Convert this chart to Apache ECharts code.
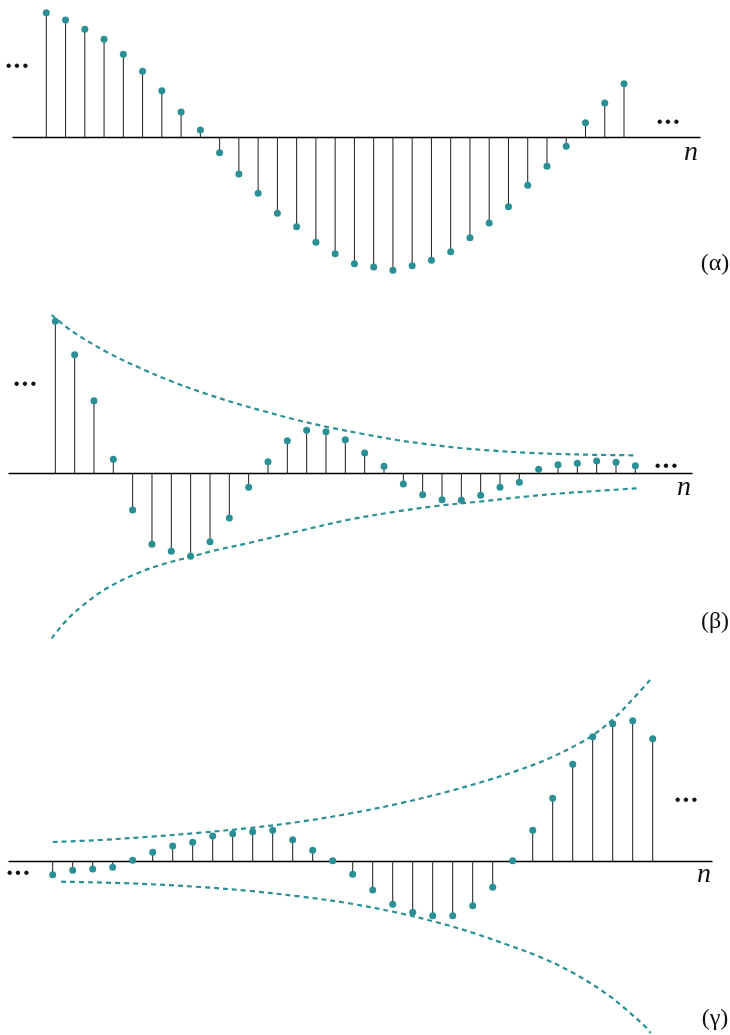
<!DOCTYPE html>
<html>
<head>
<meta charset="utf-8">
<script src="https://cdn.jsdelivr.net/npm/echarts@6/dist/echarts.min.js"></script>
<style>
  html, body { margin: 0; padding: 0; background: #fff; }
  #chart { width: 730px; height: 1035px; }
</style>
</head>
<body>
<div id="chart"></div>
<script>
// sample index n
const nIndex = [0,1,2,3,4,5,6,7,8,9,10,11,12,13,14,15,16,17,18,19,20,21,22,23,24,25,26,27,28,29,30];

// (α) sequence values
const alphaVals = [124.3,117,107.7,97.7,82.7,65.7,46.3,25,7,-15.7,-37,-56.3,-76.3,-89.7,-105.3,-116.7,-126.7,-130,-133.3,-128.7,-123.3,-114.7,-100.7,-86,-69.7,-48.3,-29.3,-9.3,14.3,34,53.3];

// (β) sequence values and envelopes [n, value]
const betaVals = [151.7,118.3,72.3,13.7,-37,-71.3,-78.3,-83.3,-68.7,-45,-14.3,11.3,32.3,42.7,41.3,33.3,20,6.7,-11,-21.7,-26.7,-27.3,-22.3,-14.3,-9.3,3.7,8.3,9.7,12,10.7,7.3];
const betaUpper = [[-0.19,158],[0.93,141],[2.66,121],[4.38,105],[6.1,91],[7.83,79],[9.55,68.5],[10.76,62],[12.49,53],[14.21,45.5],[15.93,39],[17.66,33],[19.38,28.5],[20.93,25],[22.66,22.3],[24.38,20.3],[26.11,19],[27.83,18.2],[29.98,17.7]];
const betaLower = [[-0.19,-165.3],[0.59,-147],[1.45,-132],[2.66,-115.3],[4.04,-102],[5.42,-92],[6.97,-84],[8.35,-77],[10.07,-69.7],[12.5,-58.5],[15.24,-46.5],[17.66,-38.5],[19.73,-33],[21.97,-28.5],[24.38,-23.5],[26.11,-20.5],[28.17,-17.7],[30.12,-15.3]];

// (γ) sequence values and envelopes [n, value]
const gammaVals = [-13.7,-9.3,-8,-6.3,0.7,8.7,15,18.7,25,27.3,29.3,30.7,21.3,10.7,0.3,-13.3,-29,-43.3,-51.3,-54.7,-54.7,-44.7,-26.3,0.3,30.7,62.7,96.7,124.3,137.3,140.3,122.3];
const gammaUpper = [[0,19],[2.37,21],[4.87,24.3],[7.37,28.3],[9.87,33],[12.37,39.3],[14.87,47.5],[17.37,57.7],[19.87,70],[21.7,80.5],[23.03,89],[24.7,101.5],[26.37,118],[27.03,126],[28.03,142],[28.87,159],[29.87,181]];
const gammaLower = [[0.42,-20.7],[4.03,-22.5],[7.37,-26],[9.87,-30],[12.37,-35.5],[14.87,-42.5],[17.37,-52.3],[19.53,-63],[21.03,-72],[22.7,-83.5],[24.37,-96],[26.03,-112],[27.7,-133],[28.7,-149],[29.7,-167],[29.9,-172]];

// panel labels
const panelLabels = ['(α)', '(β)', '(γ)'];

const TEAL = '#2a9096';
function pairs(vals) { return nIndex.map((n, i) => [n, vals[i]]); }
function stemSeries(idx, vals) {
  return {
    type: 'custom', xAxisIndex: idx, yAxisIndex: idx, z: 2,
    data: pairs(vals), encode: { x: 0, y: 1 },
    renderItem: function (params, api) {
      const x = api.value(0), y = api.value(1);
      const p0 = api.coord([x, 0]), p1 = api.coord([x, y]);
      return { type: 'line', shape: { x1: p0[0], y1: p0[1], x2: p1[0], y2: p1[1] },
               style: { stroke: '#1c1c1c', lineWidth: 1 } };
    }
  };
}
function dotSeries(idx, vals) {
  return { type: 'scatter', xAxisIndex: idx, yAxisIndex: idx, z: 4,
           data: pairs(vals), symbolSize: 7, itemStyle: { color: TEAL, opacity: 1 } };
}
function envSeries(idx, data) {
  return { type: 'line', xAxisIndex: idx, yAxisIndex: idx, z: 3, data: data,
           smooth: 0.35, symbol: 'none',
           lineStyle: { color: TEAL, width: 2.2, type: [5, 4] } };
}
function xAx(idx, min, max) {
  return { type: 'value', gridIndex: idx, min: min, max: max,
           axisLine: { show: true, onZero: true, lineStyle: { color: '#000', width: 1.3 } },
           axisTick: { show: false }, axisLabel: { show: false }, splitLine: { show: false } };
}
function yAx(idx, min, max) {
  return { type: 'value', gridIndex: idx, min: min, max: max, show: false };
}
function ftxt(text, x, y, font) {
  return { type: 'text', x: x, y: y, z: 10,
           style: { text: text, font: font, fill: '#111', align: 'center', verticalAlign: 'middle' } };
}
const DOTS_FONT = 'bold 24px DejaVu Serif';
const N_FONT = 'italic 28px Liberation Serif';
const LBL_FONT = '24px Liberation Serif';
function dots(x, y) { return ftxt('...', x, y, DOTS_FONT); }
function nLab(x, y) { return ftxt('n', x, y, N_FONT); }
function pLab(t, x, y) { return ftxt(t, x, y, LBL_FONT); }

const chart = echarts.init(document.getElementById('chart'), null, { renderer: 'canvas' });
chart.setOption({
  animation: false,
  backgroundColor: '#fff',
  grid: [
    { left: 13, right: 30, top: 0, height: 290 },
    { left: 9, right: 38, top: 300, height: 350 },
    { left: 9, right: 18, top: 660, height: 375 }
  ],
  xAxis: [ xAx(0, -1.729, 33.946), xAx(1, -2.395, 32.93), xAx(2, -2.185, 32.965) ],
  yAxis: [ yAx(0, -153, 137), yAx(1, -177, 173), yAx(2, -174, 201) ],
  series: [
    stemSeries(0, alphaVals), dotSeries(0, alphaVals),
    envSeries(1, betaUpper), envSeries(1, betaLower),
    stemSeries(1, betaVals), dotSeries(1, betaVals),
    envSeries(2, gammaUpper), envSeries(2, gammaLower),
    stemSeries(2, gammaVals), dotSeries(2, gammaVals)
  ],
  graphic: [
    dots(17, 62), dots(668, 118), nLab(691, 153), pLab(panelLabels[0], 715, 264),
    dots(25, 380), dots(666, 462), nLab(684, 488), pLab(panelLabels[1], 715, 622),
    dots(18, 869), dots(686, 796), nLab(704, 875), pLab(panelLabels[2], 715, 1019)
  ]
});
</script>
</body>
</html>
